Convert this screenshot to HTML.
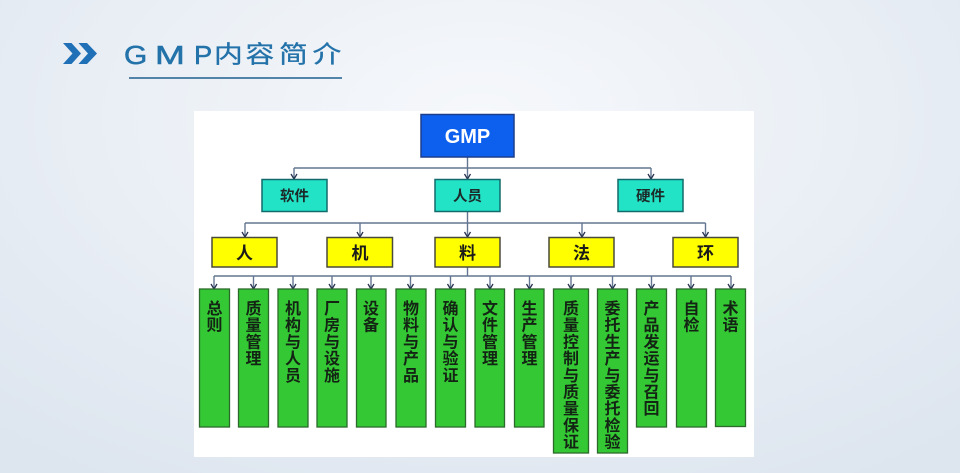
<!DOCTYPE html>
<html><head><meta charset="utf-8">
<style>
html,body{margin:0;padding:0;}
body{width:960px;height:473px;overflow:hidden;position:relative;
background:radial-gradient(ellipse 75% 90% at 50% 25%, #f6f8fb 0%, #eaeff5 50%, #dde5ef 100%);}
svg{position:absolute;left:0;top:0;}
</style></head>
<body>
<svg width="960" height="473" viewBox="0 0 960 473" xmlns="http://www.w3.org/2000/svg">
<defs>
<marker id="ah" markerWidth="10" markerHeight="10" refX="4" refY="7" orient="0" markerUnits="userSpaceOnUse">
<path d="M1,2 L4,7 L7,2" fill="none" stroke="#26334f" stroke-width="1.3"/>
</marker>
</defs>
<!-- title -->
<polygon points="63,43 71.5,43 81,53.5 71.5,64 63,64 72.5,53.5" fill="#1f70b6"/>
<polygon points="78.5,43 87,43 97,53.5 87,64 78.5,64 88,53.5" fill="#1f70b6"/>
<g fill="#2372a9" stroke="#2372a9" stroke-width="0.5" font-family="Liberation Sans, sans-serif" font-size="26">
<text transform="translate(124,64) scale(1.15,1)">G</text>
<text transform="translate(155,64) scale(1.38,1)">M</text>
<text transform="translate(194,64) scale(1.05,1)">P</text>
</g>
<g fill="#2372a9" stroke="#2372a9" stroke-width="0.3" font-family="Noto Sans CJK SC, sans-serif" font-size="24">
<text transform="translate(214,62.5) scale(1.2,1)">内</text>
<text transform="translate(245.5,62.5) scale(1.2,1)">容</text>
<text transform="translate(279,62.5) scale(1.2,1)">简</text>
<text transform="translate(312.5,62.5) scale(1.2,1)">介</text>
</g>
<line x1="129" y1="78" x2="342" y2="78" stroke="#1f5f8f" stroke-width="1.5"/>

<!-- panel -->
<rect x="194" y="111" width="560" height="346" fill="#ffffff"/>

<!-- connectors -->
<g stroke="#637691" stroke-width="1.4" fill="none">
<line x1="467.5" y1="157" x2="467.5" y2="168"/>
<line x1="294" y1="168" x2="651" y2="168"/>
<line x1="294" y1="168" x2="294" y2="179" marker-end="url(#ah)"/>
<line x1="467.5" y1="168" x2="467.5" y2="179" marker-end="url(#ah)"/>
<line x1="651" y1="168" x2="651" y2="179" marker-end="url(#ah)"/>

<line x1="467.5" y1="212" x2="467.5" y2="223"/>
<line x1="245" y1="223" x2="705.5" y2="223"/>
<line x1="245" y1="223" x2="245" y2="237" marker-end="url(#ah)"/>
<line x1="360" y1="223" x2="360" y2="237" marker-end="url(#ah)"/>
<line x1="467.5" y1="223" x2="467.5" y2="237" marker-end="url(#ah)"/>
<line x1="582" y1="223" x2="582" y2="237" marker-end="url(#ah)"/>
<line x1="705.5" y1="223" x2="705.5" y2="237" marker-end="url(#ah)"/>

<line x1="467.5" y1="267" x2="467.5" y2="276"/>
<line x1="214" y1="276" x2="731" y2="276"/>
<line x1="214" y1="276" x2="214" y2="289" marker-end="url(#ah)"/>
<line x1="253.5" y1="276" x2="253.5" y2="289" marker-end="url(#ah)"/>
<line x1="293" y1="276" x2="293" y2="289" marker-end="url(#ah)"/>
<line x1="332" y1="276" x2="332" y2="289" marker-end="url(#ah)"/>
<line x1="371" y1="276" x2="371" y2="289" marker-end="url(#ah)"/>
<line x1="410.5" y1="276" x2="410.5" y2="289" marker-end="url(#ah)"/>
<line x1="450.5" y1="276" x2="450.5" y2="289" marker-end="url(#ah)"/>
<line x1="490" y1="276" x2="490" y2="289" marker-end="url(#ah)"/>
<line x1="529.5" y1="276" x2="529.5" y2="289" marker-end="url(#ah)"/>
<line x1="571" y1="276" x2="571" y2="289" marker-end="url(#ah)"/>
<line x1="612.5" y1="276" x2="612.5" y2="289" marker-end="url(#ah)"/>
<line x1="651.5" y1="276" x2="651.5" y2="289" marker-end="url(#ah)"/>
<line x1="691" y1="276" x2="691" y2="289" marker-end="url(#ah)"/>
<line x1="731" y1="276" x2="731" y2="289" marker-end="url(#ah)"/>
</g>

<!-- GMP -->
<rect x="421" y="114.5" width="93" height="42.5" fill="#0d60ee" stroke="#1d3e8c" stroke-width="1.5"/>
<text x="467.5" y="143" text-anchor="middle" fill="#ffffff" font-family="Liberation Sans, sans-serif" font-weight="bold" font-size="20">GMP</text>

<!-- teal -->
<g fill="#22e3c6" stroke="#136a6c" stroke-width="1.5">
<rect x="262" y="179.5" width="65" height="32"/>
<rect x="435" y="179.5" width="65" height="32"/>
<rect x="618" y="179.5" width="65" height="32"/>
</g>
<g fill="#1c2a2a" font-weight="bold" font-size="14.5" text-anchor="middle" font-family="Noto Sans CJK SC, sans-serif">
<text x="294.5" y="201">软件</text>
<text x="467.5" y="201">人员</text>
<text x="650.5" y="201">硬件</text>
</g>

<!-- yellow -->
<g fill="#ffff00" stroke="#4a4a3a" stroke-width="1.5">
<rect x="212" y="237.5" width="65" height="29.5"/>
<rect x="327" y="237.5" width="65.5" height="29.5"/>
<rect x="435" y="237.5" width="65" height="29.5"/>
<rect x="549" y="237.5" width="65" height="29.5"/>
<rect x="673" y="237.5" width="65" height="29.5"/>
</g>
<g fill="#1a1a1a" font-weight="bold" font-size="17" text-anchor="middle" font-family="Noto Sans CJK SC, sans-serif">
<text x="244.5" y="259">人</text>
<text x="360" y="259">机</text>
<text x="467.5" y="259">料</text>
<text x="581.5" y="259">法</text>
<text x="705.5" y="259">环</text>
</g>

<!-- green -->
<g fill="#34c934" stroke="#2b6a2b" stroke-width="1.3">
<rect x="199.5" y="289" width="30" height="138"/>
<rect x="238.5" y="289" width="30" height="138"/>
<rect x="278" y="289" width="30" height="138"/>
<rect x="317" y="289" width="30" height="138"/>
<rect x="356.5" y="289" width="29.5" height="138"/>
<rect x="396" y="289" width="30" height="138"/>
<rect x="435.5" y="289" width="30" height="138"/>
<rect x="475" y="289" width="29.5" height="138"/>
<rect x="514.5" y="289" width="29.5" height="138"/>
<rect x="553.5" y="289" width="35" height="164"/>
<rect x="597.5" y="289" width="30" height="164"/>
<rect x="636.5" y="289" width="30" height="138"/>
<rect x="676.5" y="289" width="30" height="138"/>
<rect x="715.5" y="289" width="30" height="137.5"/>
</g>
<g fill="#142414" font-weight="bold" font-size="16" text-anchor="middle" font-family="Noto Sans CJK SC, sans-serif">
<text x="214.5" y="314"><tspan x="214.5">总</tspan><tspan x="214.5" dy="16.7">则</tspan></text>
<text x="253.5" y="314"><tspan x="253.5">质</tspan><tspan x="253.5" dy="16.7">量</tspan><tspan x="253.5" dy="16.7">管</tspan><tspan x="253.5" dy="16.7">理</tspan></text>
<text x="293" y="314"><tspan x="293">机</tspan><tspan x="293" dy="16.7">构</tspan><tspan x="293" dy="16.7">与</tspan><tspan x="293" dy="16.7">人</tspan><tspan x="293" dy="16.7">员</tspan></text>
<text x="332" y="314"><tspan x="332">厂</tspan><tspan x="332" dy="16.7">房</tspan><tspan x="332" dy="16.7">与</tspan><tspan x="332" dy="16.7">设</tspan><tspan x="332" dy="16.7">施</tspan></text>
<text x="371" y="314"><tspan x="371">设</tspan><tspan x="371" dy="16.7">备</tspan></text>
<text x="411" y="314"><tspan x="411">物</tspan><tspan x="411" dy="16.7">料</tspan><tspan x="411" dy="16.7">与</tspan><tspan x="411" dy="16.7">产</tspan><tspan x="411" dy="16.7">品</tspan></text>
<text x="450.5" y="314"><tspan x="450.5">确</tspan><tspan x="450.5" dy="16.7">认</tspan><tspan x="450.5" dy="16.7">与</tspan><tspan x="450.5" dy="16.7">验</tspan><tspan x="450.5" dy="16.7">证</tspan></text>
<text x="490" y="314"><tspan x="490">文</tspan><tspan x="490" dy="16.7">件</tspan><tspan x="490" dy="16.7">管</tspan><tspan x="490" dy="16.7">理</tspan></text>
<text x="529.5" y="314"><tspan x="529.5">生</tspan><tspan x="529.5" dy="16.7">产</tspan><tspan x="529.5" dy="16.7">管</tspan><tspan x="529.5" dy="16.7">理</tspan></text>
<text x="571" y="314"><tspan x="571">质</tspan><tspan x="571" dy="16.7">量</tspan><tspan x="571" dy="16.7">控</tspan><tspan x="571" dy="16.7">制</tspan><tspan x="571" dy="16.7">与</tspan><tspan x="571" dy="16.7">质</tspan><tspan x="571" dy="16.7">量</tspan><tspan x="571" dy="16.7">保</tspan><tspan x="571" dy="16.7">证</tspan></text>
<text x="612.5" y="314"><tspan x="612.5">委</tspan><tspan x="612.5" dy="16.7">托</tspan><tspan x="612.5" dy="16.7">生</tspan><tspan x="612.5" dy="16.7">产</tspan><tspan x="612.5" dy="16.7">与</tspan><tspan x="612.5" dy="16.7">委</tspan><tspan x="612.5" dy="16.7">托</tspan><tspan x="612.5" dy="16.7">检</tspan><tspan x="612.5" dy="16.7">验</tspan></text>
<text x="651.5" y="314"><tspan x="651.5">产</tspan><tspan x="651.5" dy="16.7">品</tspan><tspan x="651.5" dy="16.7">发</tspan><tspan x="651.5" dy="16.7">运</tspan><tspan x="651.5" dy="16.7">与</tspan><tspan x="651.5" dy="16.7">召</tspan><tspan x="651.5" dy="16.7">回</tspan></text>
<text x="691.5" y="314"><tspan x="691.5">自</tspan><tspan x="691.5" dy="16.7">检</tspan></text>
<text x="730.5" y="314"><tspan x="730.5">术</tspan><tspan x="730.5" dy="16.7">语</tspan></text>
</g>
</svg>
</body></html>
